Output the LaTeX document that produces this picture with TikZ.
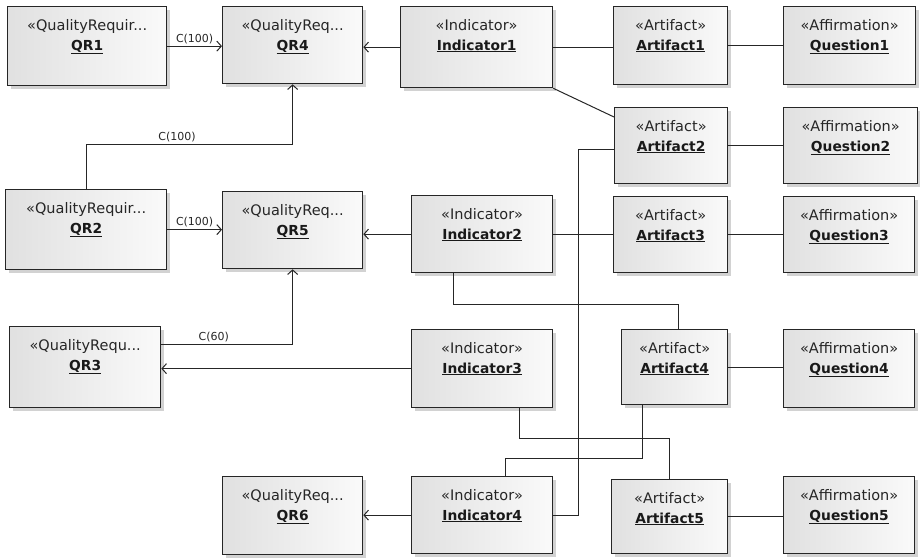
\documentclass[tikz,border=0pt]{standalone}
\usepackage{fontspec}
\setmainfont{DejaVu Sans}
\usetikzlibrary{arrows.meta,shadows}
\tikzset{
	obj/.style={draw=black!85, line width=1.3pt, anchor=north west, inner sep=0pt,
		left color=black!12, right color=black!2,
		drop shadow={shadow xshift=3.5pt, shadow yshift=-3.5pt, fill=black!22, opacity=.8}},
	stereo/.style={anchor=base, inner sep=0pt, text=black!85, font=\fontsize{14.5}{16}\selectfont},
	title/.style={anchor=base, inner sep=0pt, text=black!90, font=\fontsize{13.8}{16}\selectfont\bfseries},
	conn/.style={draw=black!85, line width=1pt},
	arr/.style={conn, -{Straight Barb[length=4.5pt,width=10pt,line width=1pt]}},
	lbl/.style={above, inner sep=2pt, text=black!85, font=\fontsize{11}{12}\selectfont}
}
\def\objbox#1(#2,#3)(#4,#5)#6#7{
	\node[obj, minimum width={#4-#2}, minimum height={#5-#3}] (#1) at (#2,#3) {};
	\node[stereo] at ([yshift=-24pt]#1.north) {#6};
	\node[title] at ([yshift=-44pt]#1.north) {\underline{#7}};
}

\begin{document}
\begin{tikzpicture}[x=1pt, y=-1pt]
				\useasboundingbox (0,0) rectangle (920,557);
				
				\objbox{QR1}(7,6)(166,85){«QualityRequir...}{QR1}
				\objbox{QR4}(222,6)(362,83){«QualityReq...}{QR4}
				\objbox{Indicator1}(400,6)(552,87){«Indicator»}{Indicator1}
				\objbox{Artifact1}(613,6)(727,84){«Artifact»}{Artifact1}
				\objbox{Question1}(783,6)(915,84){«Affirmation»}{Question1}
				\objbox{Artifact2}(614,107)(727,183){«Artifact»}{Artifact2}
				\objbox{Question2}(783,107)(917,183){«Affirmation»}{Question2}
				
				\objbox{QR2}(5,189)(166,269){«QualityRequir...}{QR2}
				\objbox{QR5}(222,191)(362,268){«QualityReq...}{QR5}
				\objbox{Indicator2}(411,195)(552,272){«Indicator»}{Indicator2}
				\objbox{Artifact3}(613,196)(727,272){«Artifact»}{Artifact3}
				\objbox{Question3}(783,196)(914,272){«Affirmation»}{Question3}
				
				\objbox{QR3}(9,326)(160,407){«QualityRequ...}{QR3}
				\objbox{Indicator3}(411,329)(552,407){«Indicator»}{Indicator3}
				\objbox{Artifact4}(621,329)(727,404){«Artifact»}{Artifact4}
				\objbox{Question4}(783,329)(914,407){«Affirmation»}{Question4}
				
				\objbox{QR6}(222,476)(362,554){«QualityReq...}{QR6}
				\objbox{Indicator4}(411,476)(552,553){«Indicator»}{Indicator4}
				\objbox{Artifact5}(611,479)(727,553){«Artifact»}{Artifact5}
				\objbox{Question5}(783,476)(914,553){«Affirmation»}{Question5}
				
				\draw[arr] (QR1.east) -- node[lbl]{C(100)} (QR1.east -| QR4.west);
				\draw[arr] (QR2.north) -- ++(0,-45) -| node[lbl, pos=.22]{C(100)} (QR4.south);
				\draw[arr] (QR2.east) -- node[lbl]{C(100)} (QR2.east -| QR5.west);
				\draw[arr] ([yshift=22.5pt]QR3.east) -| node[lbl, pos=.2]{C(60)} (QR5.south);
				
				\draw[arr] (Indicator1.west) -- (Indicator1.west -| QR4.east);
				\draw[arr] (Indicator2.west) -- (Indicator2.west -| QR5.east);
				\draw[arr] (Indicator3.west) -- (Indicator3.west -| QR3.east);
				\draw[arr] (Indicator4.west) -- (Indicator4.west -| QR6.east);
				
				\draw[conn] (Indicator1.east) -- (Indicator1.east -| Artifact1.west);
				\draw[conn] (Indicator1.south east) -- ([yshift=-10pt]Artifact2.north west);
				\draw[conn] (Indicator2.east) -- (Indicator2.east -| Artifact3.west);
				\draw[conn] ([xshift=-28.5pt]Indicator2.south) -- ++(0,31) -| ([xshift=4pt]Artifact4.north);
				\draw[conn] ([xshift=37.5pt]Indicator3.south) -- ++(0,30) -| (Artifact5.north);
				\draw[conn] ([xshift=-32pt]Artifact4.south) -- ++(0,53) -| ([xshift=23.5pt]Indicator4.north);
				\draw[conn] ([yshift=-4pt]Artifact2.west) -- ++(-36,0) |- (Indicator4.east);
				
				\draw[conn] (Artifact1.east) -- (Artifact1.east -| Question1.west);
				\draw[conn] (Artifact2.east) -- (Artifact2.east -| Question2.west);
				\draw[conn] (Artifact3.east) -- (Artifact3.east -| Question3.west);
				\draw[conn] (Artifact4.east) -- (Artifact4.east -| Question4.west);
				\draw[conn] (Artifact5.east) -- (Artifact5.east -| Question5.west);
\end{tikzpicture}
\end{document}
